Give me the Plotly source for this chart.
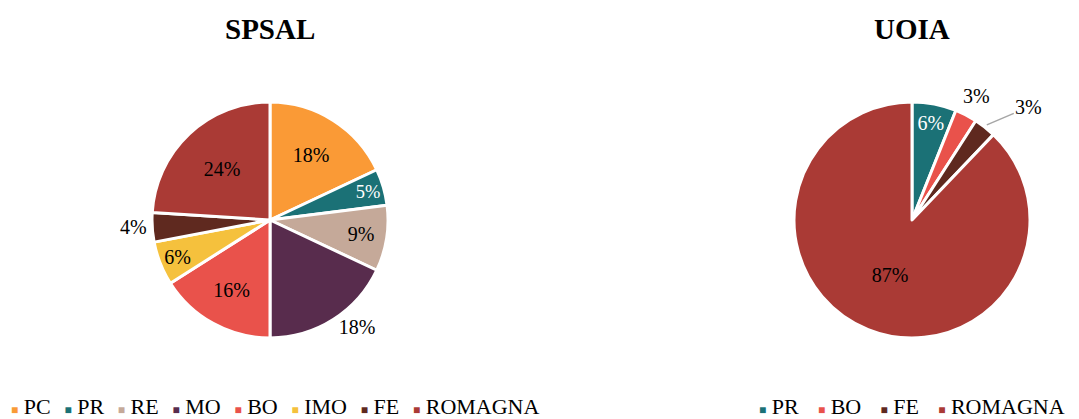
import math
import plotly.graph_objects as go

W, H = 1079, 419

spsal_labels = ["PC", "PR", "RE", "MO", "BO", "IMO", "FE", "ROMAGNA"]
spsal_values = [18, 5, 9, 18, 16, 6, 4, 24]
uoia_labels = ["PR", "BO", "FE", "ROMAGNA"]
uoia_values = [6, 3, 3, 87]

colors = {
    "PC": "#FA9A36", "PR": "#1B7176", "RE": "#C5A999", "MO": "#582C4D",
    "BO": "#E9524B", "IMO": "#F5C13D", "FE": "#5F291F", "ROMAGNA": "#AA3A35",
}

font = "Liberation Serif"
R = 118
C1 = (270, 220)
C2 = (912, 220)


def dom(c, r):
    cx, cy = c
    return dict(x=[(cx - r) / W, (cx + r) / W], y=[(H - cy - r) / H, (H - cy + r) / H])


def legend_text(labels, gap):
    parts = []
    for l in labels:
        parts.append(f"<span style='color:{colors[l]};font-size:12px'>■</span> {l}")
    return gap.join(parts)


def edge_point(values, i, c, r):
    # point on the rim at the middle of slice i (clockwise from 12 o'clock)
    tot = sum(values)
    mid = (sum(values[:i]) + values[i] / 2) / tot * 2 * math.pi
    return (c[0] + r * math.sin(mid)) / W, (H - c[1] + r * math.cos(mid)) / H


fig = go.Figure()
fig.add_trace(go.Pie(
    labels=spsal_labels, values=spsal_values, sort=False, direction="clockwise",
    rotation=0, domain=dom(C1, R),
    marker=dict(colors=[colors[l] for l in spsal_labels], line=dict(color="white", width=3)),
    texttemplate="%{value}%",
    textposition=["inside", "inside", "inside", "outside", "inside", "inside", "outside", "inside"],
    textfont=dict(family=font, size=20,
                  color=["black", "white", "black", "black", "black", "black", "black", "black"]),
    insidetextorientation="horizontal",
    showlegend=False, hoverinfo="label+value",
))
fig.add_trace(go.Pie(
    labels=uoia_labels, values=uoia_values, sort=False, direction="clockwise",
    rotation=0, domain=dom(C2, R),
    marker=dict(colors=[colors[l] for l in uoia_labels], line=dict(color="white", width=3)),
    texttemplate="%{value}%",
    textposition=["inside", "none", "none", "inside"],
    textfont=dict(family=font, size=20, color=["white", "black", "black", "black"]),
    insidetextorientation="horizontal",
    showlegend=False, hoverinfo="label+value",
))

bx, by = edge_point(uoia_values, 1, C2, R + 22)
fx, fy = edge_point(uoia_values, 2, C2, R + 3)

thin = "<span style='font-size:11px'> </span>"

fig.update_layout(
    width=W, height=H,
    margin=dict(l=0, r=0, t=0, b=0, autoexpand=False),
    paper_bgcolor="white", plot_bgcolor="white",
    font=dict(family=font, size=20, color="black"),
    annotations=[
        dict(text="<b>SPSAL</b>", x=270 / W, y=1 - 29 / H, xref="paper", yref="paper",
             xanchor="center", yanchor="middle",
             showarrow=False, font=dict(size=29, family=font)),
        dict(text="<b>UOIA</b>", x=912 / W, y=1 - 29 / H, xref="paper", yref="paper",
             xanchor="center", yanchor="middle",
             showarrow=False, font=dict(size=29, family=font)),
        dict(text=f"{uoia_values[1]}%", x=bx, y=by, xref="paper", yref="paper",
             xanchor="center", yanchor="middle", showarrow=False,
             font=dict(size=20, family=font)),
        dict(text=f"{uoia_values[2]}%", x=fx, y=fy, xref="paper", yref="paper",
             ax=42, ay=-18, showarrow=True, arrowhead=0, arrowwidth=1.5,
             arrowcolor="#A6A6A6", font=dict(size=20, family=font)),
        dict(text=legend_text(spsal_labels, "  " + thin), x=9 / W, y=1 - 406 / H,
             xref="paper", yref="paper", xanchor="left", yanchor="middle", showarrow=False,
             font=dict(size=22, family=font)),
        dict(text=legend_text(uoia_labels, "   " + thin), x=757 / W, y=1 - 406 / H,
             xref="paper", yref="paper", xanchor="left", yanchor="middle", showarrow=False,
             font=dict(size=22, family=font)),
    ],
)

fig.write_html("out.html", config={"displayModeBar": False},
               post_script="document.body.style.margin='0';")
